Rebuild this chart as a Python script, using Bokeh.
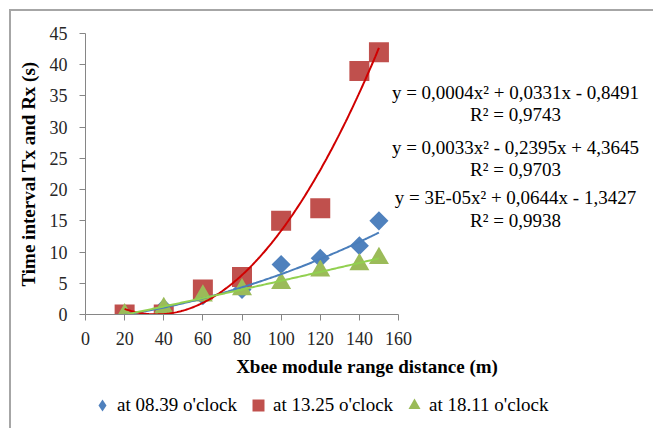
import numpy as np
from bokeh.plotting import figure
from bokeh.layouts import column
from bokeh.models import Range1d, Label, Legend, LegendItem, FixedTicker
from bokeh.embed import file_html
from bokeh.resources import INLINE

# ---- data ----
distance = [20, 40, 60, 80, 100, 120, 140, 150]
t_0839 = [0, 1, 3, 4, 8, 9, 11, 15]
t_1325 = [0, 0, 4, 6, 15, 17, 39, 42]
t_1811 = [0, 1, 3, 4, 5, 7, 8, 9]
series_names = ["at 08.39 o'clock", "at 13.25 o'clock", "at 18.11 o'clock"]

# polynomial trendline coefficients (a*x^2 + b*x + c) as printed on the chart
coef_0839 = [0.0004, 0.0331, -0.8491]
coef_1325 = [0.0033, -0.2395, 4.3645]
coef_1811 = [3e-05, 0.0644, -1.3427]

eq_texts = ["y = 0,0004x\u00b2 + 0,0331x - 0,8491",
            "y = 0,0033x\u00b2 - 0,2395x + 4,3645",
            "y = 3E-05x\u00b2 + 0,0644x - 1,3427"]
r2_texts = ["R\u00b2 = 0,9743", "R\u00b2 = 0,9703", "R\u00b2 = 0,9938"]

x_ticks = [0, 20, 40, 60, 80, 100, 120, 140, 160]
y_ticks = [0, 5, 10, 15, 20, 25, 30, 35, 40, 45]
x_axis_max = 160
y_axis_max = 45

FONT = "Liberation Serif"
BLUE, RED, GREEN = "#4F81BD", "#C0504D", "#9BBB59"
AXIS = "#868686"

# frame: 74 px left border, 563 px wide; x scale chosen so that 0..160 spans 313 px
FRAME_W = 563
x_end = x_axis_max * FRAME_W / 313.0

p = figure(width=642, height=372,
           x_range=Range1d(0, x_end), y_range=Range1d(0, y_axis_max),
           output_backend="svg", toolbar_location=None,
           min_border_left=74, min_border_right=5,
           min_border_top=22, min_border_bottom=69)
p.background_fill_color = "white"
p.border_fill_color = "white"
p.outline_line_color = None
p.xgrid.visible = False
p.ygrid.visible = False

for ax in (p.xaxis[0], p.yaxis[0]):
    ax.axis_line_color = AXIS
    ax.major_tick_line_color = AXIS
    ax.major_tick_out = 6
    ax.major_tick_in = 0
    ax.minor_tick_out = 0
    ax.minor_tick_in = 0
    ax.major_label_text_font = FONT
    ax.major_label_text_font_size = "18px"
    ax.major_label_text_color = "#262626"
    ax.axis_label_text_font = FONT
    ax.axis_label_text_font_style = "bold"
    ax.axis_label_text_font_size = "19px"
    ax.axis_label_text_color = "#000000"

p.xaxis.bounds = (0, x_axis_max)
p.xaxis.ticker = FixedTicker(ticks=x_ticks)
p.yaxis.ticker = FixedTicker(ticks=y_ticks)
p.xaxis.axis_label = "Xbee module range distance (m)"
p.yaxis.axis_label = "Time interval Tx and Rx (s)"
p.xaxis.major_label_standoff = 11
p.xaxis.axis_label_standoff = 8
p.yaxis.major_label_standoff = 12
p.yaxis.axis_label_standoff = 8

# markers
p.scatter(distance, t_0839, marker="square", size=13.5, angle=np.pi / 4,
          fill_color=BLUE, line_color=None)
p.scatter(distance, t_1325, marker="square", size=20,
          fill_color=RED, line_color=None)
p.scatter(distance, t_1811, marker="triangle", size=20,
          fill_color=GREEN, line_color=None)

# trendlines
xs = np.linspace(min(distance), max(distance), 200)
for coef, col in ((coef_0839, "#4A7EBB"), (coef_1325, "#D00000"), (coef_1811, "#92D050")):
    p.line(xs, np.polyval(coef, xs), line_color=col, line_width=2)

# equation labels
eq_x = 219.8
eq_y = [35.5, 26.7, 18.7]
r2_y = [32.1, 23.3, 15.0]
for txt, yy in zip(eq_texts + r2_texts, eq_y + r2_y):
    p.add_layout(Label(x=eq_x, y=yy, text=txt, text_align="center",
                       text_baseline="middle", text_font=FONT,
                       text_font_size="19px", text_color="#000000"))

# ---- legend strip below the chart (its frame is aligned with the chart frame) ----
p2 = figure(width=642, height=45, x_range=Range1d(0, 1), y_range=Range1d(0, 1),
            output_backend="svg", toolbar_location=None,
            x_axis_type=None, y_axis_type=None,
            min_border_left=0, min_border_right=0, min_border_top=0, min_border_bottom=0)
p2.outline_line_color = None
p2.xgrid.visible = False
p2.ygrid.visible = False
p2.background_fill_color = "white"
p2.border_fill_color = "white"

# the same series, drawn off this strip's visible range: only their legend glyphs show
lg_series = [t_0839, t_1325, t_1811]
lg_markers = ["diamond", "square", "triangle"]
lg_colors = [BLUE, RED, GREEN]
items = []
for name, ys, mk, col in zip(series_names, lg_series, lg_markers, lg_colors):
    r = p2.scatter(distance, ys, marker=mk, size=12, fill_color=col, line_color=None)
    items.append(LegendItem(label=name, renderers=[r]))

legend = Legend(items=items, orientation="horizontal", location=(2, 8),
                glyph_width=30, glyph_height=30, label_standoff=0, spacing=6,
                padding=0, margin=0, border_line_color=None,
                background_fill_alpha=0,
                label_text_font=FONT, label_text_font_size="19px",
                label_text_color="#000000")
p2.add_layout(legend, "center")

layout = column(p, p2, spacing=0,
                styles={"margin-left": "9px", "margin-top": "9px",
                        "border-left": "2px solid #a6a6a6",
                        "border-top": "2px solid #a6a6a6"})

open("out.html", "w").write(file_html(layout, INLINE))
